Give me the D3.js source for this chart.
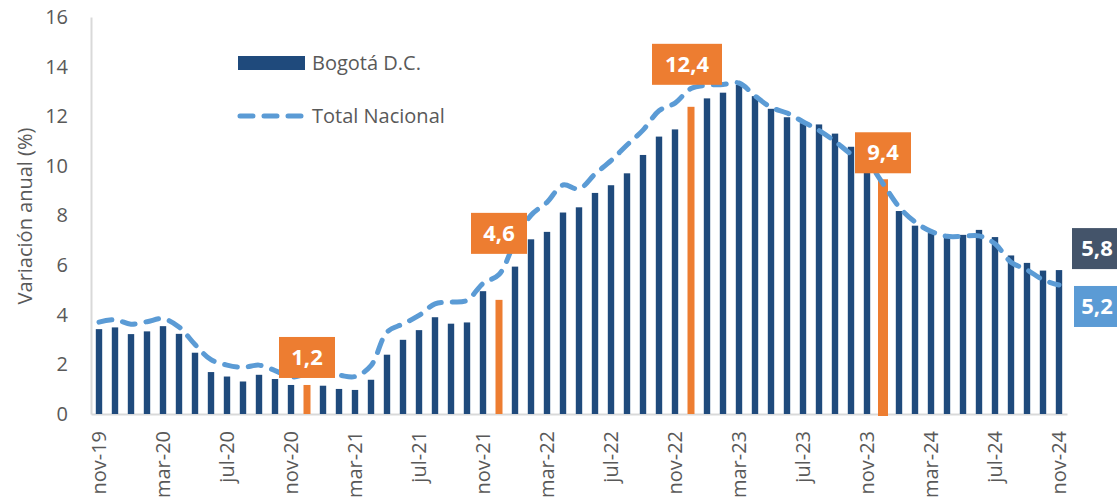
<!DOCTYPE html>
<html>
<head>
<meta charset="utf-8">
<script src="https://cdn.jsdelivr.net/npm/d3@7"></script>
<style>
  body { margin: 0; background: #fff; }
  svg { display: block; font-family: "Open Sans", sans-serif; }
</style>
</head>
<body>
<svg id="chart" width="1117" height="502"></svg>
<script>
const months = [
  'nov-19', 'dic-19', 'ene-20', 'feb-20', 'mar-20', 'abr-20', 'may-20', 'jun-20', 'jul-20', 'ago-20', 'sep-20', 'oct-20',
  'nov-20', 'dic-20', 'ene-21', 'feb-21', 'mar-21', 'abr-21', 'may-21', 'jun-21', 'jul-21', 'ago-21', 'sep-21', 'oct-21',
  'nov-21', 'dic-21', 'ene-22', 'feb-22', 'mar-22', 'abr-22', 'may-22', 'jun-22', 'jul-22', 'ago-22', 'sep-22', 'oct-22',
  'nov-22', 'dic-22', 'ene-23', 'feb-23', 'mar-23', 'abr-23', 'may-23', 'jun-23', 'jul-23', 'ago-23', 'sep-23', 'oct-23',
  'nov-23', 'dic-23', 'ene-24', 'feb-24', 'mar-24', 'abr-24', 'may-24', 'jun-24', 'jul-24', 'ago-24', 'sep-24', 'oct-24',
  'nov-24'
];

const bogota = [
  3.42, 3.49, 3.22, 3.33, 3.54, 3.23, 2.47, 1.69, 1.51, 1.31, 1.58, 1.41,
  1.17, 1.17, 1.14, 1.01, 0.97, 1.38, 2.39, 2.99, 3.38, 3.90, 3.64, 3.69,
  4.95, 4.60, 5.94, 7.04, 7.34, 8.12, 8.33, 8.91, 9.22, 9.70, 10.44, 11.18,
  11.47, 12.38, 12.72, 12.95, 13.26, 12.81, 12.30, 11.96, 11.72, 11.67, 11.30, 10.77,
  10.05, 9.46, 8.18, 7.59, 7.29, 7.11, 7.22, 7.42, 7.13, 6.39, 6.09, 5.78,
  5.80
];

const nacional = [
  3.70, 3.80, 3.62, 3.72, 3.84, 3.51, 2.80, 2.19, 1.97, 1.88, 1.97, 1.75,
  1.49, 1.61, 1.60, 1.56, 1.51, 1.95, 3.30, 3.63, 3.97, 4.44, 4.51, 4.58,
  5.26, 5.62, 6.94, 8.01, 8.53, 9.23, 9.07, 9.67, 10.21, 10.84, 11.44, 12.22,
  12.53, 13.12, 13.25, 13.28, 13.34, 12.82, 12.36, 12.13, 11.78, 11.43, 10.99, 10.48,
  10.15, 9.28, 8.35, 7.74, 7.36, 7.16, 7.16, 7.18, 6.86, 6.12, 5.81, 5.41,
  5.20
];

const highlighted = ['dic-20', 'dic-21', 'dic-22', 'dic-23'];
const highlightLabels = ['1,2', '4,6', '12,4', '9,4'];
const xTickLabels = months.filter((d, i) => i % 4 === 0);
const yTicks = [0, 2, 4, 6, 8, 10, 12, 14, 16];
const legendLabels = ['Bogotá D.C.', 'Total Nacional'];
const endLabels = ['5,8', '5,2'];

const BAR = '#1F4A7C';
const ORANGE = '#ED7D31';
const LINE = '#5B9BD5';
const DARK = '#44546A';
const TEXT = '#595959';
const AXIS = '#D9D9D9';

const svg = d3.select('#chart');

function translate(a, b) {
  return `translate(${a}, ${b})`;
}

const x = d3.scaleBand()
  .domain(months)
  .range([91, 1067])
  .paddingInner(0.6)
  .paddingOuter(0.3);

const y = d3.scaleLinear().domain([0, 16]).range([414, 17]);

const cx = d => x(d) + x.bandwidth() / 2;

// axes
const yAxis = svg.append('g')
  .attr('transform', translate(91, 0))
  .call(d3.axisLeft(y).tickValues(yTicks).tickSize(0).tickPadding(23));
yAxis.select('.domain').attr('stroke', AXIS).attr('stroke-width', 2);
yAxis.selectAll('text')
  .attr('fill', TEXT)
  .style('font-size', '20px')
  .style('font-family', '"Open Sans", sans-serif');

const xAxis = svg.append('g')
  .attr('transform', translate(0, 414))
  .call(d3.axisBottom(x).tickValues(xTickLabels).tickSize(0));
xAxis.select('.domain').attr('stroke', AXIS).attr('stroke-width', 2);
xAxis.selectAll('text')
  .attr('fill', TEXT)
  .style('font-size', '20px')
  .style('font-family', '"Open Sans", sans-serif')
  .attr('transform', 'rotate(-90)')
  .attr('text-anchor', 'end')
  .attr('x', -17)
  .attr('y', 0)
  .attr('dy', '0.35em');

svg.append('text')
  .attr('transform', translate(25, 216) + ' rotate(-90)')
  .attr('text-anchor', 'middle')
  .attr('dy', '0.35em')
  .attr('fill', TEXT)
  .style('font-size', '20px')
  .text('Variación anual (%)');

// bars
const barWidth = d => d === 'dic-23' ? 10 : (highlighted.includes(d) ? 7 : x.bandwidth());

svg.append('g').selectAll('rect')
  .data(months)
  .enter().append('rect')
    .attr('x', d => cx(d) - barWidth(d) / 2)
    .attr('width', barWidth)
    .attr('y', (d, i) => y(bogota[i]))
    .attr('height', (d, i) => y(0) - y(bogota[i]) + (d === 'dic-23' ? 2 : 0))
    .attr('fill', d => highlighted.includes(d) ? ORANGE : BAR);

// total nacional line
const line = d3.line()
  .x((d, i) => cx(months[i]))
  .y(d => y(d))
  .curve(d3.curveCatmullRom.alpha(0.5));

svg.append('path')
  .datum(nacional)
  .attr('d', line)
  .attr('fill', 'none')
  .attr('stroke', LINE)
  .attr('stroke-width', 5)
  .attr('stroke-linecap', 'round')
  .attr('stroke-dasharray', '13 11');

// highlight labels (offset above the bar top, px)
const labelOffset = [28, 67, 43, 27];
highlighted.forEach((m, k) => {
  const i = months.indexOf(m);
  const w = highlightLabels[k].length > 3 ? 70 : 56;
  const yc = y(bogota[i]) - labelOffset[k];
  const g = svg.append('g').attr('transform', translate(cx(m) - (k === 2 ? 4 : 0), yc));
  g.append('rect')
    .attr('x', -w / 2).attr('y', -20)
    .attr('width', w).attr('height', 41)
    .attr('fill', ORANGE);
  g.append('text')
    .attr('text-anchor', 'middle')
    .attr('dy', '0.36em')
    .attr('fill', '#fff')
    .style('font-size', '22px')
    .style('font-weight', 'bold')
    .text(highlightLabels[k]);
});

// end labels
[[bogota[bogota.length - 1], DARK], [nacional[nacional.length - 1], LINE]].forEach(([v, col], k) => {
  const yc = k === 0 ? y(v) - 22 : y(v) + 21;
  const g = svg.append('g').attr('transform', translate(1073, yc));
  g.append('rect')
    .attr('x', k === 0 ? -1 : 1).attr('y', -20)
    .attr('width', 60).attr('height', 41)
    .attr('fill', col);
  g.append('text')
    .attr('x', 24)
    .attr('text-anchor', 'middle')
    .attr('dy', '0.36em')
    .attr('fill', '#fff')
    .style('font-size', '22px')
    .style('font-weight', 'bold')
    .text(endLabels[k]);
});

// legend
const legend = svg.append('g');
legend.append('rect')
  .attr('x', 238).attr('y', 56)
  .attr('width', 67).attr('height', 14)
  .attr('fill', BAR);
legend.append('line')
  .attr('x1', 240).attr('x2', 301)
  .attr('y1', 116).attr('y2', 116)
  .attr('stroke', LINE)
  .attr('stroke-width', 5)
  .attr('stroke-linecap', 'round')
  .attr('stroke-dasharray', '13 11');
legend.selectAll('text.leg')
  .data(legendLabels)
  .enter().append('text')
    .attr('class', 'leg')
    .attr('x', 312)
    .attr('y', (d, i) => 63 + i * 53)
    .attr('dy', '0.35em')
    .attr('fill', TEXT)
    .style('font-size', '20px')
    .text(d => d);
</script>
</body>
</html>
